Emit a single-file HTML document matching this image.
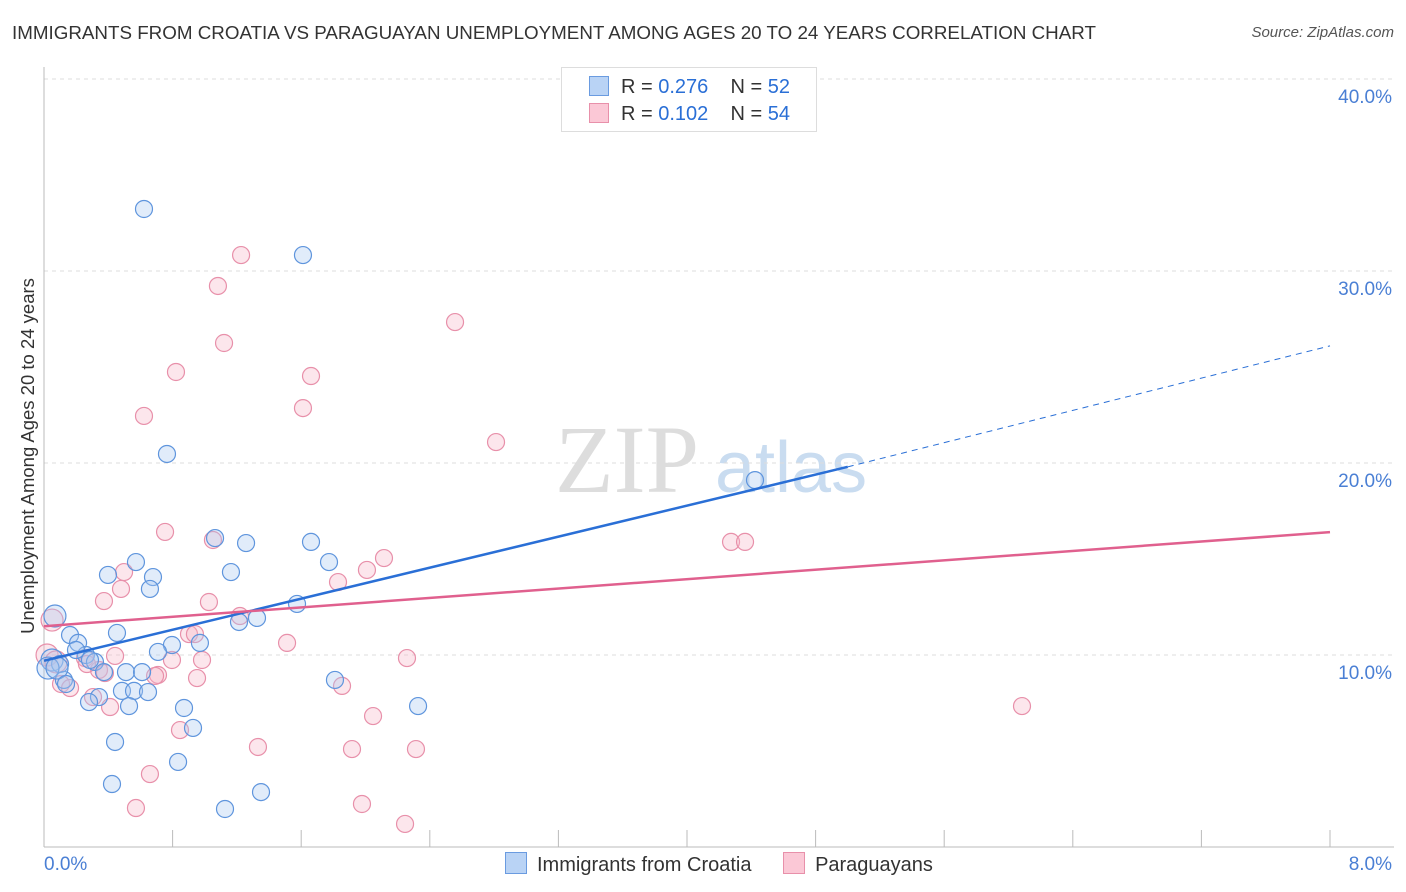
<!DOCTYPE html>
<html><head><meta charset="utf-8">
<style>
body{margin:0;background:#fff;font-family:"Liberation Sans",sans-serif;}
#wrap{position:relative;width:1406px;height:892px;overflow:hidden;}
.t{position:absolute;white-space:nowrap;}
</style></head>
<body>
<div id="wrap">
<div class="t" style="left:12px;top:22px;font-size:18.8px;color:#333;">IMMIGRANTS FROM CROATIA VS PARAGUAYAN UNEMPLOYMENT AMONG AGES 20 TO 24 YEARS CORRELATION CHART</div>
<div class="t" style="right:12px;top:24px;font-size:15px;color:#555;font-style:italic;">Source: ZipAtlas.com</div>
<svg id="svg" width="1406" height="892" style="position:absolute;left:0;top:0"></svg>
</div>
<script>
const xTicks=[0,8];
const yTicks=[10,20,30,40];
const blueX=[];const blueY=[];const pinkX=[];const pinkY=[];
const bluePx=[[144,209],[303,255],[167,454],[755,480],[215,538],[246,543],[311,542],[136,562],[329,562],[108,575],[153,577],[231,572],[150,589],[297,604],[257,618],[239,622],[55,616],[117,633],[70,635],[78,643],[172,645],[200,643],[158,652],[86,655],[95,662],[52,660],[60,664],[48,668],[104,672],[126,672],[142,672],[64,680],[335,680],[122,691],[134,691],[148,692],[99,697],[89,702],[129,706],[184,708],[418,706],[193,728],[115,742],[178,762],[112,784],[261,792],[225,809],[57,668],[66,684],[90,660],[76,650]];
const pinkPx=[[241,255],[218,286],[455,322],[224,343],[176,372],[311,376],[303,408],[144,416],[496,442],[165,532],[213,540],[731,542],[745,542],[384,558],[367,570],[124,572],[338,582],[121,589],[104,601],[209,602],[240,616],[52,620],[189,634],[195,634],[287,643],[115,656],[172,660],[202,660],[407,658],[47,655],[85,658],[99,670],[158,675],[155,676],[105,673],[197,678],[342,686],[61,684],[70,688],[93,697],[110,707],[373,716],[180,730],[1022,706],[258,747],[352,749],[416,749],[150,774],[136,808],[362,804],[405,824],[56,662],[87,664]];
bluePx.forEach(p=>{blueX.push(+((p[0]-44)/1286*8).toFixed(3));blueY.push(+((847-p[1])/19.2).toFixed(2));});
pinkPx.forEach(p=>{pinkX.push(+((p[0]-44)/1286*8).toFixed(3));pinkY.push(+((847-p[1])/19.2).toFixed(2));});
const blueLine=[9.7,19.8,26.1];
const pinkLine=[11.5,16.4];
const X=v=>44+v/8*1286, Y=v=>847-v*19.2;
const svg=document.getElementById('svg');const NS='http://www.w3.org/2000/svg';
function mk(t,a,p){const e=document.createElementNS(NS,t);for(const k in a)e.setAttribute(k,a[k]);(p||svg).appendChild(e);return e;}
let w=mk('text',{x:555,y:492,'font-size':96,'font-family':'Liberation Serif',fill:'#ddd'});w.textContent='ZIP';


let w2=mk('text',{x:715,y:492,'font-size':72,'font-family':'Liberation Sans',fill:'#c9dcf0'});w2.textContent='atlas';


yTicks.forEach(v=>{const l=mk('line',{x1:44,x2:1394,y1:Y(v),y2:Y(v),stroke:'#ddd','stroke-dasharray':'4,4'});


const t=mk('text',{x:1392,y:Y(v)+24,'text-anchor':'end','font-size':19,fill:'#4a7fd4'});t.textContent=v.toFixed(1)+'%';

});
mk('line',{x1:44,x2:44,y1:67,y2:847,stroke:'#bbb'});
mk('line',{x1:44,x2:1394,y1:847,y2:847,stroke:'#bbb'});
for(let i=1;i<=10;i++){const tk=mk('line',{x1:X(i*0.8),x2:X(i*0.8),y1:830,y2:847,stroke:'#bbb'});

}
xTicks.forEach((v,i)=>{const t=mk('text',{x:i?1392:44,y:870,'text-anchor':i?'end':'start','font-size':19,fill:'#4a7fd4'});t.textContent=v.toFixed(1)+'%';

});
function pts(xs,ys,fill,stroke,name){xs.forEach((x,i)=>{const big=X(x)<60;const c=mk('circle',{cx:X(x),cy:Y(ys[i]),r:big?11:8.5,fill:fill,'fill-opacity':0.35,stroke:stroke,'stroke-width':1.2});

});}
pts(pinkX,pinkY,'#f7b6c8','#e890aa','paraguayans-point');
pts(blueX,blueY,'#a9c8f0','#5f95dd','croatia-point');
const bl=mk('line',{x1:X(0),y1:Y(blueLine[0]),x2:X(5),y2:Y(blueLine[1]),stroke:'#2a6fd6','stroke-width':2.5});


const bd=mk('line',{x1:X(5),y1:Y(blueLine[1]),x2:X(8),y2:Y(blueLine[2]),stroke:'#2a6fd6','stroke-width':1,'stroke-dasharray':'6,5'});


const pl=mk('line',{x1:X(0),y1:Y(pinkLine[0]),x2:X(8),y2:Y(pinkLine[1]),stroke:'#e0608e','stroke-width':2.5});


</script>
<div class="t" style="left:28px;top:456px;font-size:18.5px;color:#333;transform:translate(-50%,-50%) rotate(-90deg);">Unemployment Among Ages 20 to 24 years</div>
<div style="position:absolute;left:561px;top:67px;width:254px;height:63px;border:1px solid #ddd;background:#fff;font-size:20px;color:#333;">
<div style="position:absolute;left:27px;top:8px;"><span style="display:inline-block;width:18px;height:18px;background:#b9d3f5;border:1px solid #6a9be0;vertical-align:-3px;margin-right:12px"></span>R = <span style="color:#2a6fd6">0.276</span>&nbsp;&nbsp;&nbsp; N = <span style="color:#2a6fd6">52</span></div>
<div style="position:absolute;left:27px;top:35px;"><span style="display:inline-block;width:18px;height:18px;background:#fbc8d6;border:1px solid #e890aa;vertical-align:-3px;margin-right:12px"></span>R = <span style="color:#2a6fd6">0.102</span>&nbsp;&nbsp;&nbsp; N = <span style="color:#2a6fd6">54</span></div>
</div>
<div style="position:absolute;left:505px;top:852px;font-size:20px;color:#333;white-space:nowrap;">
<span><span style="display:inline-block;width:20px;height:20px;background:#b9d3f5;border:1px solid #6a9be0;vertical-align:-3px;margin-right:10px"></span>Immigrants from Croatia</span>
<span style="margin-left:26px"><span style="display:inline-block;width:20px;height:20px;background:#fbc8d6;border:1px solid #e890aa;vertical-align:-3px;margin-right:10px"></span>Paraguayans</span>
</div>
</body></html>
